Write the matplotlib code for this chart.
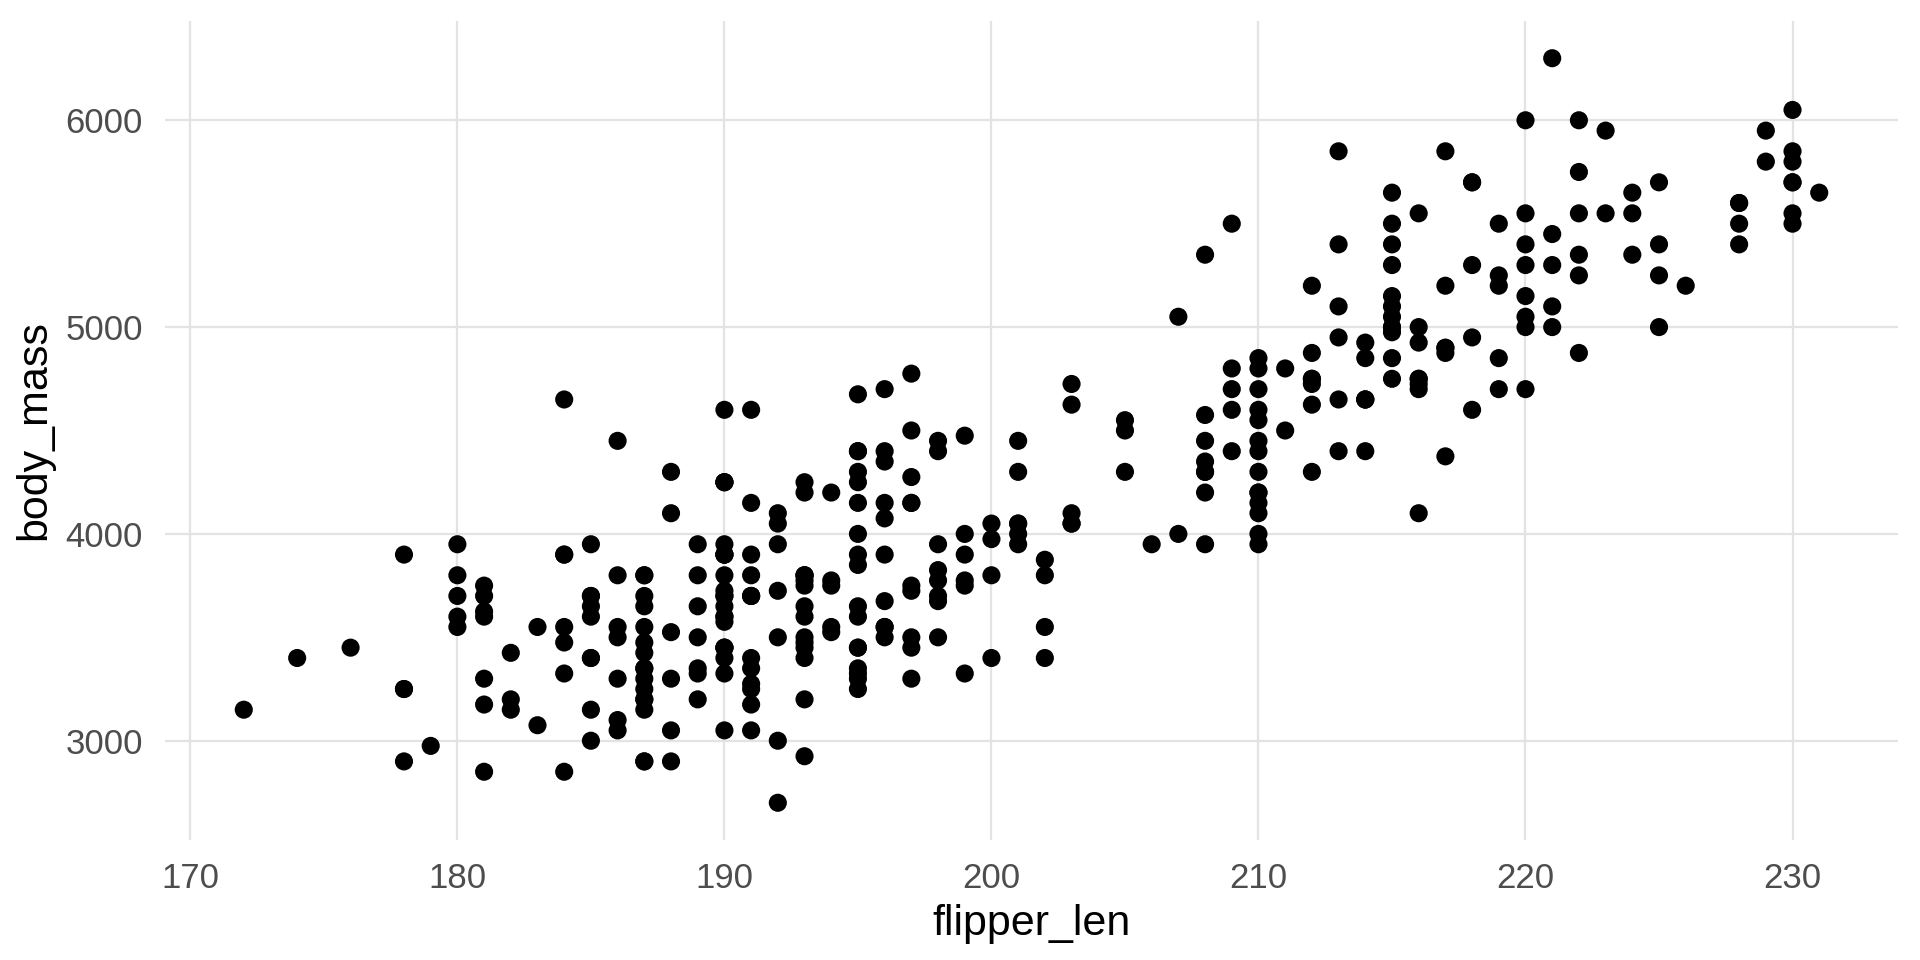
import numpy as np
import matplotlib
matplotlib.use("Agg")
import matplotlib.pyplot as plt

# flipper length (mm) and body mass (g), read per group
adelie_flipper = [
    181, 186, 195, 193, 190, 181, 195, 193, 190, 186, 180, 182, 191, 198, 185, 195, 197, 184, 194,
    174, 180, 189, 185, 180, 187, 183, 187, 172, 180,
    178, 178, 188, 184, 195, 196, 190, 180, 181, 184, 182, 195, 186, 196, 185, 190, 182, 179, 190, 191,
    186, 188, 190, 200, 187, 191, 186, 193, 181, 194, 185, 195, 185, 192, 184, 192, 195, 188,
    190, 198, 190, 190, 196, 197, 190, 195, 191, 184, 187, 195, 189, 196, 187, 193,
    191, 194, 190, 189, 189, 190, 202, 205, 185, 186, 187, 208, 190, 196, 178, 192,
    192, 203, 183, 190, 193, 184, 199, 190, 181, 197, 198, 191, 193, 197, 191, 196,
    188, 199, 189, 189, 187, 198, 176, 202, 186, 199, 191, 195, 191, 210, 190, 197,
    193, 199, 187, 190, 191, 200, 185, 193, 193, 187, 188, 190, 192, 185, 190, 184, 195, 193, 187, 201,
]
adelie_mass = [
    3750, 3800, 3250, 3450, 3650, 3625, 4675, 3475, 4250, 3300, 3700, 3200, 3800, 4400, 3700, 3450, 4500, 3325, 4200,
    3400, 3600, 3800, 3950, 3800, 3800, 3550, 3200, 3150, 3950,
    3250, 3900, 3300, 3900, 3325, 4150, 3950, 3550, 3300, 4650, 3150, 3900, 3100, 4400, 3000, 4600, 3425, 2975, 3450, 4150,
    3500, 4300, 3450, 4050, 2900, 3700, 3550, 3800, 2850, 3750, 3150, 4400, 3600, 4050, 2850, 3950, 3350, 4100,
    3050, 4450, 3600, 3900, 3550, 4150, 3700, 4250, 3700, 3900, 3550, 4000, 3200, 4700, 3800, 4200,
    3350, 3550, 3800, 3500, 3950, 3600, 3550, 4300, 3400, 4450, 3300, 4300, 3700, 4350, 2900, 4100,
    3725, 4725, 3075, 4250, 2925, 3550, 3750, 3900, 3175, 4775, 3825, 4600, 3200, 4275, 3900, 4075,
    2900, 3775, 3350, 3325, 3150, 3500, 3450, 3875, 3050, 4000, 3275, 4300, 3050, 4000, 3325, 3500,
    3500, 4475, 3425, 3900, 3175, 3975, 3400, 4250, 3400, 3475, 3050, 3725, 3000, 3650, 4250, 3475, 3450, 3750, 3700, 4000,
]

gentoo_flipper = [
    211, 230, 210, 218, 215, 210, 211, 219, 209, 215, 214, 216, 214, 213, 210, 217, 210, 221, 209, 222,
    218, 215, 213, 215, 215, 215, 216, 215, 210, 220, 222, 209, 207, 230, 220, 220, 213, 219, 208, 208,
    208, 225, 210, 216, 222, 217, 210, 225, 213, 215, 210, 220, 210, 225, 217, 220, 208, 220, 208, 224,
    208, 221, 214, 231, 219, 230, 214, 229, 220, 223, 216, 221, 221, 217, 216, 230, 209, 220, 215, 223,
    212, 221, 212, 224, 212, 228, 218, 218, 212, 230, 218, 228, 212, 224, 214, 226, 216, 222, 203, 225,
    219, 228, 215, 228, 216, 215, 210, 219, 208, 209, 216, 229, 213, 230, 217, 230, 217, 222, 214,
    215, 222, 212, 213,
]
gentoo_mass = [
    4500, 5700, 4450, 5700, 5400, 4550, 4800, 5200, 4400, 5150, 4650, 5550, 4650, 5850, 4200, 5850, 4150, 6300, 4800, 5350,
    5700, 5000, 4400, 5050, 5000, 5100, 4100, 5650, 4600, 5550, 5250, 4700, 5050, 6050, 5150, 5400, 4950, 5250, 4350, 5350,
    3950, 5700, 4300, 4750, 5550, 4900, 4200, 5400, 5100, 5300, 4850, 5300, 4400, 5000, 4900, 5050, 4300, 5000, 4450, 5550,
    4200, 5300, 4400, 5650, 4700, 5700, 4650, 5800, 4700, 5550, 4750, 5000, 5100, 5200, 4700, 5800, 4600, 6000, 4750, 5950,
    4625, 5450, 4725, 5350, 4750, 5600, 4600, 5300, 4875, 5550, 4950, 5400, 4750, 5650, 4850, 5200, 4925, 4875, 4625, 5250,
    4850, 5600, 4975, 5500, 4725, 5500, 4700, 5500, 4575, 5500, 5000, 5950, 4650, 5500, 4375, 5850, 4875, 6000, 4925,
    4850, 5750, 5200, 5400,
]

chinstrap_flipper = [
    192, 196, 193, 188, 197, 198, 178, 197, 195, 198, 193, 194, 185, 201, 190, 201, 197, 181, 190, 195,
    181, 191, 187, 193, 195, 197, 200, 200, 191, 205, 187, 201, 187, 203, 195, 199, 195, 210, 192, 205,
    210, 187, 196, 196, 196, 201, 190, 212, 187, 198, 199, 201, 193, 203, 187, 197, 191, 203, 202, 194,
    206, 189, 195, 207, 202, 193, 210, 198,
]
chinstrap_mass = [
    3500, 3900, 3650, 3525, 3725, 3950, 3250, 3750, 4150, 3700, 3800, 3775, 3700, 4050, 3575, 4050, 3300, 3700, 3450, 4400,
    3600, 3400, 2900, 3800, 3300, 4150, 3400, 3800, 3700, 4550, 3200, 4300, 3350, 4100, 3600, 3900, 3850, 4800, 2700, 4500,
    3950, 3650, 3550, 3500, 3675, 4450, 3400, 4300, 3250, 3675, 3325, 3950, 3600, 4050, 3350, 3450, 3250, 4050, 3800, 3525,
    3950, 3650, 3650, 4000, 3400, 3775, 4100, 3775,
]

flipper_len = np.array(adelie_flipper + gentoo_flipper + chinstrap_flipper)
body_mass = np.array(adelie_mass + gentoo_mass + chinstrap_mass)

plt.rcParams['font.family'] = ['Liberation Sans', 'DejaVu Sans']

fig = plt.figure(figsize=(19.2, 9.6), dpi=100)
ax = fig.add_axes([165 / 1920, 120 / 960, (1898 - 165) / 1920, (840 - 21) / 960])

ax.scatter(flipper_len, body_mass, s=170, color='black', edgecolors='none', zorder=3)

# ggplot-like expansion of 5%
xr = flipper_len.max() - flipper_len.min()
yr = body_mass.max() - body_mass.min()
ax.set_xlim(flipper_len.min() - 0.05 * xr, flipper_len.max() + 0.05 * xr)
ax.set_ylim(body_mass.min() - 0.05 * yr, body_mass.max() + 0.05 * yr)

ax.set_xticks([170, 180, 190, 200, 210, 220, 230])
ax.set_yticks([3000, 4000, 5000, 6000])

# theme_minimal look
for s in ax.spines.values():
    s.set_visible(False)
ax.grid(True, color='#E3E3E3', linewidth=1.6, zorder=0)
ax.set_axisbelow(True)
ax.tick_params(length=0, labelsize=25, labelcolor='#4D4D4D', pad=16)

ax.set_xlabel('flipper_len', fontsize=31, color='black', labelpad=6)
ax.set_ylabel('body_mass', fontsize=31, color='black', labelpad=8)

fig.savefig('out.png', dpi=100, facecolor='white')
